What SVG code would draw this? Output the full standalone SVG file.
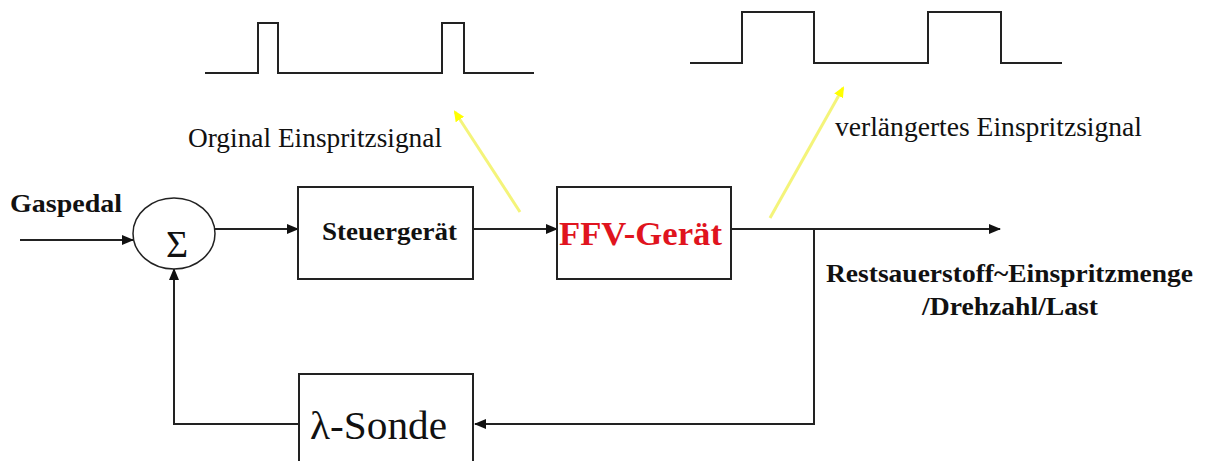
<svg xmlns="http://www.w3.org/2000/svg" width="1205" height="461" viewBox="0 0 1205 461">
<style>
.ln{fill:none;stroke:#222;stroke-width:2}
.box{fill:#fff;stroke:#222;stroke-width:2}
.yl{fill:none;stroke:#f4f47a;stroke-width:3}
</style>
<defs>
<marker id="ah" markerWidth="12" markerHeight="10" refX="11" refY="5" orient="auto" markerUnits="userSpaceOnUse">
<path d="M0,0 L12,5 L0,10 Z" fill="#111"/>
</marker>
<marker id="ya" markerWidth="12" markerHeight="12" refX="9" refY="6" orient="auto" markerUnits="userSpaceOnUse">
<path d="M0,1 L11,6 L0,11 Z" fill="#ffff00"/>
</marker>
</defs>
<rect width="1205" height="461" fill="#fff"/>
<g id="signal-original">
<polyline class="ln" points="205,73 258,73 258,23 278,23 278,73 442,73 442,23 464,23 464,73 534,73"/>
<text x="188" y="147" font-family="'Liberation Serif', serif" font-size="27" fill="#111" textLength="254" lengthAdjust="spacingAndGlyphs">Orginal Einspritzsignal</text>
</g>
<g id="signal-extended">
<polyline class="ln" points="690,63 742,63 742,12 814,12 814,63 928,63 928,12 1001,12 1001,63 1062,63"/>
<text x="835" y="136" font-family="'Liberation Serif', serif" font-size="27" fill="#111" textLength="307" lengthAdjust="spacingAndGlyphs">verlängertes Einspritzsignal</text>
</g>

<g id="connectors">
<line class="ln" x1="20" y1="240" x2="133" y2="240" marker-end="url(#ah)"/>
<line class="ln" x1="215" y1="229" x2="298" y2="229" marker-end="url(#ah)"/>
<line class="ln" x1="473" y1="229" x2="557" y2="229" marker-end="url(#ah)"/>
<line class="ln" x1="731" y1="229" x2="1000" y2="229" marker-end="url(#ah)"/>
<polyline class="ln" points="814,229 814,424 475,424" marker-end="url(#ah)"/>
<polyline class="ln" points="299,424 174,424 174,269" marker-end="url(#ah)"/>
<line class="yl" x1="520" y1="212" x2="455" y2="112" marker-end="url(#ya)"/>
<line class="yl" x1="770" y1="218" x2="843" y2="88" marker-end="url(#ya)"/>
</g>

<g id="gaspedal">
<text x="10" y="212" font-family="'Liberation Serif', serif" font-weight="bold" font-size="26" fill="#111" textLength="112" lengthAdjust="spacingAndGlyphs">Gaspedal</text>
</g>
<g id="sum">
<ellipse cx="174" cy="233.5" rx="41" ry="35.5" fill="#fff" stroke="#222" stroke-width="1.5"/>
<text x="177" y="257" font-family="'Liberation Serif', serif" font-size="38" fill="#111" text-anchor="middle">Σ</text>
</g>
<g id="steuergeraet">
<rect class="box" x="298" y="187" width="175" height="92"/>
<text x="322" y="240" font-family="'Liberation Serif', serif" font-weight="bold" font-size="26" fill="#111" textLength="135" lengthAdjust="spacingAndGlyphs">Steuergerät</text>
</g>
<g id="ffv-geraet">
<rect class="box" x="557" y="187" width="174" height="92"/>
<text x="559" y="245" font-family="'Liberation Serif', serif" font-weight="bold" font-size="33" fill="#e0141e" textLength="163" lengthAdjust="spacingAndGlyphs">FFV-Gerät</text>
</g>
<g id="output-label">
<text x="826" y="282" font-family="'Liberation Serif', serif" font-weight="bold" font-size="25" fill="#111" textLength="367" lengthAdjust="spacingAndGlyphs">Restsauerstoff~Einspritzmenge</text>
<text x="922" y="315" font-family="'Liberation Serif', serif" font-weight="bold" font-size="25" fill="#111" textLength="176" lengthAdjust="spacingAndGlyphs">/Drehzahl/Last</text>
</g>
<g id="lambda-sonde">
<rect class="box" x="299" y="374" width="174" height="100"/>
<text x="310" y="439" font-family="'Liberation Serif', serif" font-size="40" fill="#111" textLength="137" lengthAdjust="spacingAndGlyphs">λ-Sonde</text>
</g>
</svg>
